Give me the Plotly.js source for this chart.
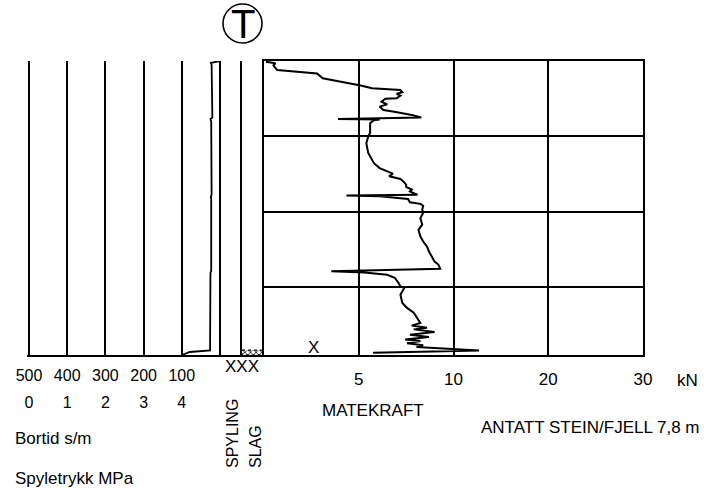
<!DOCTYPE html>
<html>
<head>
<meta charset="utf-8">
<script src="https://cdn.plot.ly/plotly-3.0.1.min.js"></script>
<style>
  html, body { margin: 0; padding: 0; background: #fff; }
  #chart { width: 704px; height: 492px; }
</style>
</head>
<body>
<div id="chart"></div>
<script>
// ---------- DATA ----------
// Feed force (Matekraft) profile: depth (m) and force (kN)
const forceDepth = [0.02, 0.06, 0.12, 0.24, 0.33, 0.46, 0.65, 0.72, 0.77, 0.83, 0.87, 0.92, 0.99, 1.00, 1.08, 1.15, 1.21, 1.30, 1.34, 1.43, 1.50, 1.54, 1.55, 1.57, 1.65, 1.91, 2.00, 2.18, 2.44, 2.62, 2.71, 2.84, 2.93, 2.99, 3.06, 3.13, 3.22, 3.28, 3.34, 3.41, 3.46, 3.55, 3.57, 3.59, 3.66, 3.75, 3.79, 3.84, 3.94, 4.03, 4.17, 4.34, 4.48, 4.65, 4.79, 4.92, 5.05, 5.18, 5.32, 5.40, 5.51, 5.58, 5.61, 5.67, 5.75, 5.89, 5.98, 6.02, 6.20, 6.42, 6.55, 6.68, 6.86, 6.95, 7.02, 7.08, 7.12, 7.19, 7.26, 7.32, 7.39, 7.43, 7.49, 7.54, 7.59, 7.64, 7.68, 7.74, 7.76];
const forceKN    = [0.1, 0.6, 0.5, 0.7, 2.8, 3.1, 5.1, 5.7, 7.2, 7.3, 7.0, 7.2, 7.0, 6.4, 6.2, 6.5, 6.1, 6.3, 6.8, 7.8, 8.3, 3.9, 6.1, 5.8, 5.6, 5.6, 5.5, 5.4, 5.5, 5.7, 5.8, 6.1, 6.5, 6.8, 6.6, 7.2, 7.4, 7.5, 7.5, 7.8, 7.7, 8.1, 4.35, 6.1, 7.6, 7.7, 8.25, 8.4, 8.35, 8.4, 8.25, 8.35, 8.15, 8.25, 8.4, 8.6, 8.7, 8.85, 9.0, 9.2, 9.3, 3.55, 5.3, 6.5, 6.9, 7.1, 7.2, 7.4, 7.2, 7.3, 7.55, 7.9, 8.15, 8.25, 7.8, 8.6, 7.9, 9.0, 7.7, 8.7, 7.45, 8.25, 7.55, 8.4, 8.05, 9.6, 12.7, 5.8, 5.8];

// Bortid (penetration time) profile: depth (m) and s/m
const bortidDepth = [0.0, 0.05, 0.10, 1.50, 1.54, 1.60, 3.55, 3.60, 3.66, 5.58, 5.62, 7.62, 7.68, 7.72, 7.80];
const bortidSm    = [0, 24, 22, 20, 25, 23, 22, 24, 23, 23, 25, 25, 26, 79, 100];

// Spyling / slag interval (m)
const spylingFrom = 7.67;
const spylingTo   = 7.80;

// Axis ticks
const bortidTicks   = [500, 400, 300, 200, 100, 0];
const bortidLabels  = ['500', '400', '300', '200', '100', ''];
const pressureTicks = [0, 1, 2, 3, 4];
const forceTickKN   = [5, 10, 20, 30];
const depthGrid     = [2, 4, 6];
const depthMax      = 7.8;
const stopText      = 'ANTATT STEIN/FJELL 7,8 m';

// ---------- SCALE HELPERS ----------
// piecewise force scale used on the plot: 0-5, 5-10, 10-20, 20-30 kN, equal widths
const forceBreaks = [0, 5, 10, 20, 30];
function forceToUnit(f) {
  for (let i = 0; i < forceBreaks.length - 1; i++) {
    const a = forceBreaks[i], b = forceBreaks[i + 1];
    if (f <= b || i === forceBreaks.length - 2) return i + (f - a) / (b - a);
  }
}

const W = 704, H = 492;
const px = x => x / W;
const py = y => 1 - y / H;
const FONT = '"Liberation Sans", Arial, sans-serif';

const yTop = 61, yBot = 355;
const yDomain = [py(yBot), py(yTop)];

// left panel geometry: 500 s/m at x=29, 0 s/m at x=220
const bPxPerUnit = (220 - 29) / 500;
const bLeftPx = 27, bRightPx = 242;
const bRange = [500 + (29 - bLeftPx) / bPxPerUnit, 0 - (bRightPx - 220) / bPxPerUnit];
const pRange = [(500 - bRange[0]) / 100, (500 - bRange[1]) / 100];

const black = '#000';
const LW = 2;

const traces = [
  {
    x: bortidSm, y: bortidDepth, xaxis: 'x', yaxis: 'y',
    type: 'scatter', mode: 'lines',
    line: { color: black, width: 1.8 }, hoverinfo: 'skip'
  },
  {
    // invisible helper so the pressure scale (second label row) is drawn
    x: pressureTicks, y: pressureTicks.map(() => null), xaxis: 'x2', yaxis: 'y',
    type: 'scatter', mode: 'markers', marker: { opacity: 0 }, hoverinfo: 'skip'
  },
  {
    x: [0, 1, 1, 0, 0], y: [spylingFrom, spylingFrom, spylingTo, spylingTo, spylingFrom],
    xaxis: 'x3', yaxis: 'y3', type: 'scatter', mode: 'lines',
    fill: 'toself', fillcolor: 'rgba(255,255,255,1)',
    fillpattern: { shape: 'x', size: 4, solidity: 0.4, fgcolor: '#222' },
    line: { color: black, width: 1.2, dash: 'dot' }, hoverinfo: 'skip'
  },
  {
    x: forceKN.map(forceToUnit), y: forceDepth, xaxis: 'x4', yaxis: 'y2',
    type: 'scatter', mode: 'lines',
    line: { color: black, width: 2 }, hoverinfo: 'skip'
  }
];

const layout = {
  width: W, height: H,
  margin: { l: 0, r: 0, t: 0, b: 0, pad: 0 },
  paper_bgcolor: '#fff', plot_bgcolor: 'rgba(0,0,0,0)',
  showlegend: false,
  font: { family: FONT, size: 17, color: black },
  xaxis: {
    domain: [px(bLeftPx), px(bRightPx)], range: bRange, anchor: 'y',
    tickmode: 'array', tickvals: bortidTicks, ticktext: bortidLabels,
    ticks: '', showgrid: true, gridcolor: black, gridwidth: LW,
    zeroline: false, showline: true, linecolor: black, linewidth: LW,
    tickfont: { family: FONT, size: 16 }, ticklabelstandoff: 5
  },
  xaxis2: {
    overlaying: 'x', anchor: 'free', position: yDomain[0], side: 'bottom',
    range: pRange, tickmode: 'array', tickvals: pressureTicks,
    ticks: '', showgrid: false, zeroline: false, showline: false,
    tickfont: { family: FONT, size: 16 }, ticklabelstandoff: 36
  },
  yaxis: {
    domain: yDomain, range: [depthMax, 0], anchor: 'x',
    showgrid: false, zeroline: false, showline: false, showticklabels: false, ticks: ''
  },
  xaxis3: {
    domain: [px(242), px(264)], range: [0, 1], anchor: 'y3',
    showgrid: false, zeroline: false, showline: true, linecolor: black, linewidth: LW,
    showticklabels: false, ticks: ''
  },
  yaxis3: {
    domain: yDomain, range: [depthMax, 0], anchor: 'x3',
    showgrid: false, zeroline: false, showline: true, linecolor: black, linewidth: LW,
    showticklabels: false, ticks: ''
  },
  xaxis4: {
    domain: [px(264), px(643)], range: [0, forceBreaks.length - 1], anchor: 'y2',
    tickmode: 'array', tickvals: forceTickKN.map(forceToUnit), ticktext: forceTickKN.map(String),
    ticks: '', showgrid: true, gridcolor: black, gridwidth: LW,
    zeroline: false, showline: true, mirror: true, linecolor: black, linewidth: LW,
    tickfont: { family: FONT, size: 17 }, ticklabelstandoff: 8
  },
  yaxis2: {
    domain: yDomain, range: [depthMax, 0], anchor: 'x4',
    tickmode: 'array', tickvals: depthGrid,
    showgrid: true, gridcolor: black, gridwidth: LW,
    zeroline: false, showline: true, mirror: true, linecolor: black, linewidth: LW,
    showticklabels: false, ticks: ''
  },
  shapes: [
    { type: 'circle', xref: 'paper', yref: 'paper',
      x0: px(223), x1: px(262), y0: py(43), y1: py(4),
      line: { color: black, width: 1.6 } }
  ],
  annotations: [
    { text: 'T', xref: 'paper', yref: 'paper', x: px(243), y: py(24), showarrow: false,
      font: { family: FONT, size: 40 }, xanchor: 'center', yanchor: 'middle' },
    { text: 'XXX', xref: 'paper', yref: 'paper', x: px(242), y: py(366), showarrow: false,
      font: { family: FONT, size: 17 }, xanchor: 'center', yanchor: 'middle' },
    { text: 'X', xref: 'paper', yref: 'paper', x: px(313), y: py(347), showarrow: false,
      font: { family: FONT, size: 17 }, xanchor: 'center', yanchor: 'middle' },
    { text: 'kN', xref: 'paper', yref: 'paper', x: px(687), y: py(380), showarrow: false,
      font: { family: FONT, size: 17 }, xanchor: 'center', yanchor: 'middle' },
    { text: 'MATEKRAFT', xref: 'paper', yref: 'paper', x: px(373), y: py(410), showarrow: false,
      font: { family: FONT, size: 17 }, xanchor: 'center', yanchor: 'middle' },
    { text: stopText, xref: 'paper', yref: 'paper', x: px(590), y: py(427), showarrow: false,
      font: { family: FONT, size: 17 }, xanchor: 'center', yanchor: 'middle' },
    { text: 'Bortid s/m', xref: 'paper', yref: 'paper', x: px(13), y: py(438), showarrow: false,
      font: { family: FONT, size: 17 }, xanchor: 'left', yanchor: 'middle' },
    { text: 'Spyletrykk MPa', xref: 'paper', yref: 'paper', x: px(13), y: py(478), showarrow: false,
      font: { family: FONT, size: 17 }, xanchor: 'left', yanchor: 'middle' },
    { text: 'SPYLING', xref: 'paper', yref: 'paper', x: px(232), y: py(434), showarrow: false,
      textangle: -90, font: { family: FONT, size: 16 }, xanchor: 'center', yanchor: 'middle' },
    { text: 'SLAG', xref: 'paper', yref: 'paper', x: px(255), y: py(447), showarrow: false,
      textangle: -90, font: { family: FONT, size: 16 }, xanchor: 'center', yanchor: 'middle' }
  ]
};

Plotly.newPlot('chart', traces, layout, { staticPlot: true, displayModeBar: false });
</script>
</body>
</html>
